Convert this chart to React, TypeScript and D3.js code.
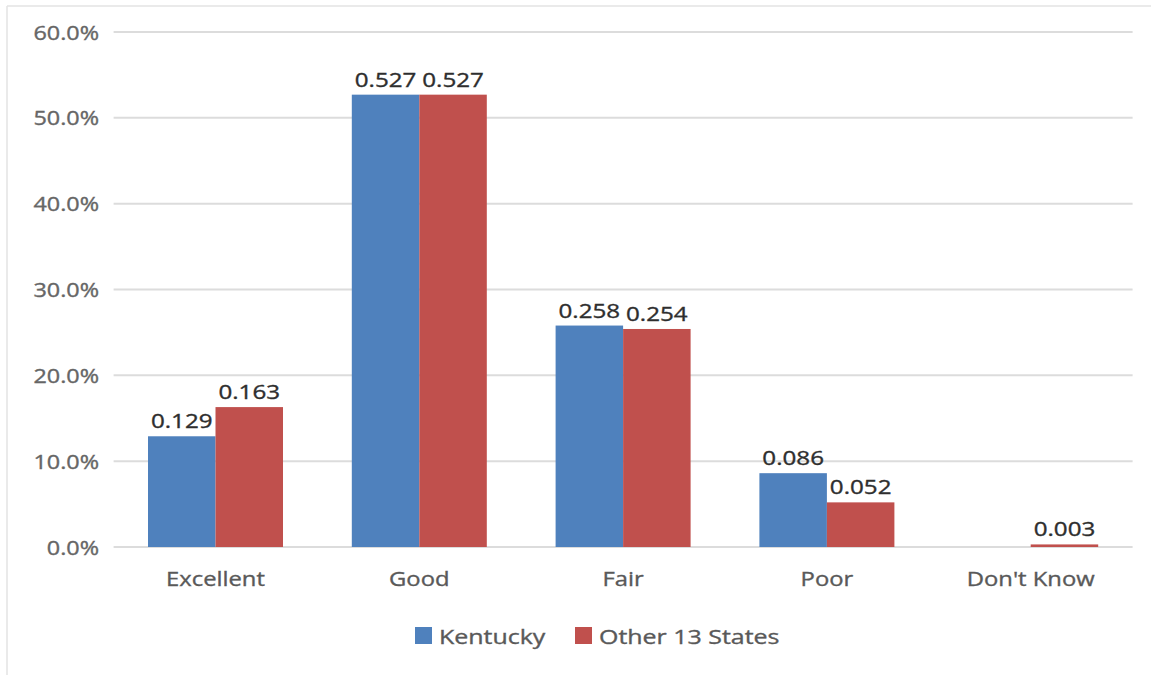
import React from "react";
import * as d3 from "d3";

const categories = ["Excellent", "Good", "Fair", "Poor", "Don't Know"];
const seriesNames = ["Kentucky", "Other 13 States"];
const kentucky = [0.129, 0.527, 0.258, 0.086, null];
const otherStates = [0.163, 0.527, 0.254, 0.052, 0.003];
const yTicks = [0, 0.1, 0.2, 0.3, 0.4, 0.5, 0.6];
const colors = ["#4f81bd", "#c0504d"];

const W = 1151;
const H = 675;
const FONT = "'Open Sans', 'Noto Sans', sans-serif";

function T({ x, y, anchor = "middle", size = 19.5, sx = 1.22, fill = "#595959", children }: any) {
  return (
    <text
      transform={`translate(${x},${y}) scale(${sx},1)`}
      textAnchor={anchor}
      fontSize={size}
      fontFamily={FONT}
      fill={fill}
      stroke={fill}
      strokeWidth={0.35}
    >
      {children}
    </text>
  );
}

export default function App() {
  const y = d3.scaleLinear().domain([0, 0.6]).range([547, 32]);
  const x = d3.scaleBand<string>().domain(categories).range([113.6, 1132.6]);
  const barW = 67.5;
  const series = [kentucky, otherStates];
  const fmt = d3.format(".1%");

  return (
    <svg width={W} height={H} style={{ position: "absolute", left: 0, top: 0, background: "#fff" }}>
      <line x1={7} x2={W} y1={6} y2={6} stroke="#e3e3e3" strokeWidth={1.5} />
      <line x1={7} x2={7} y1={6} y2={H} stroke="#e3e3e3" strokeWidth={1.5} />

      {yTicks.map((t) => (
        <g key={t}>
          <line x1={113.6} x2={1132.6} y1={y(t)} y2={y(t)} stroke="#dcdcdc" strokeWidth={2} />
          <T x={99} y={y(t) + 7.5} anchor="end" sx={1.2} fill="#666">
            {fmt(t)}
          </T>
        </g>
      ))}

      {categories.map((c, i) => {
        const cx = x(c)! + x.bandwidth() / 2;
        return (
          <g key={c}>
            {series.map((s, k) => {
              const v = s[i];
              if (v == null) return null;
              const x0 = cx - barW + k * barW;
              return (
                <g key={k}>
                  <rect x={x0} y={y(v)} width={barW} height={y(0) - y(v)} fill={colors[k]} />
                  <T x={x0 + barW / 2} y={y(v) - 8} sx={1.24} fill="#2e2e2e">
                    {v.toFixed(3)}
                  </T>
                </g>
              );
            })}
            <T x={cx} y={586} fill="#595959">
              {c}
            </T>
          </g>
        );
      })}

      {/* legend */}
      <rect x={415} y={627} width={17} height={17} fill={colors[0]} />
      <T x={439} y={644} anchor="start" sx={1.28} fill="#595959">
        {seriesNames[0]}
      </T>
      <rect x={575} y={627} width={17} height={17} fill={colors[1]} />
      <T x={599} y={644} anchor="start" sx={1.28} fill="#595959">
        {seriesNames[1]}
      </T>
    </svg>
  );
}
